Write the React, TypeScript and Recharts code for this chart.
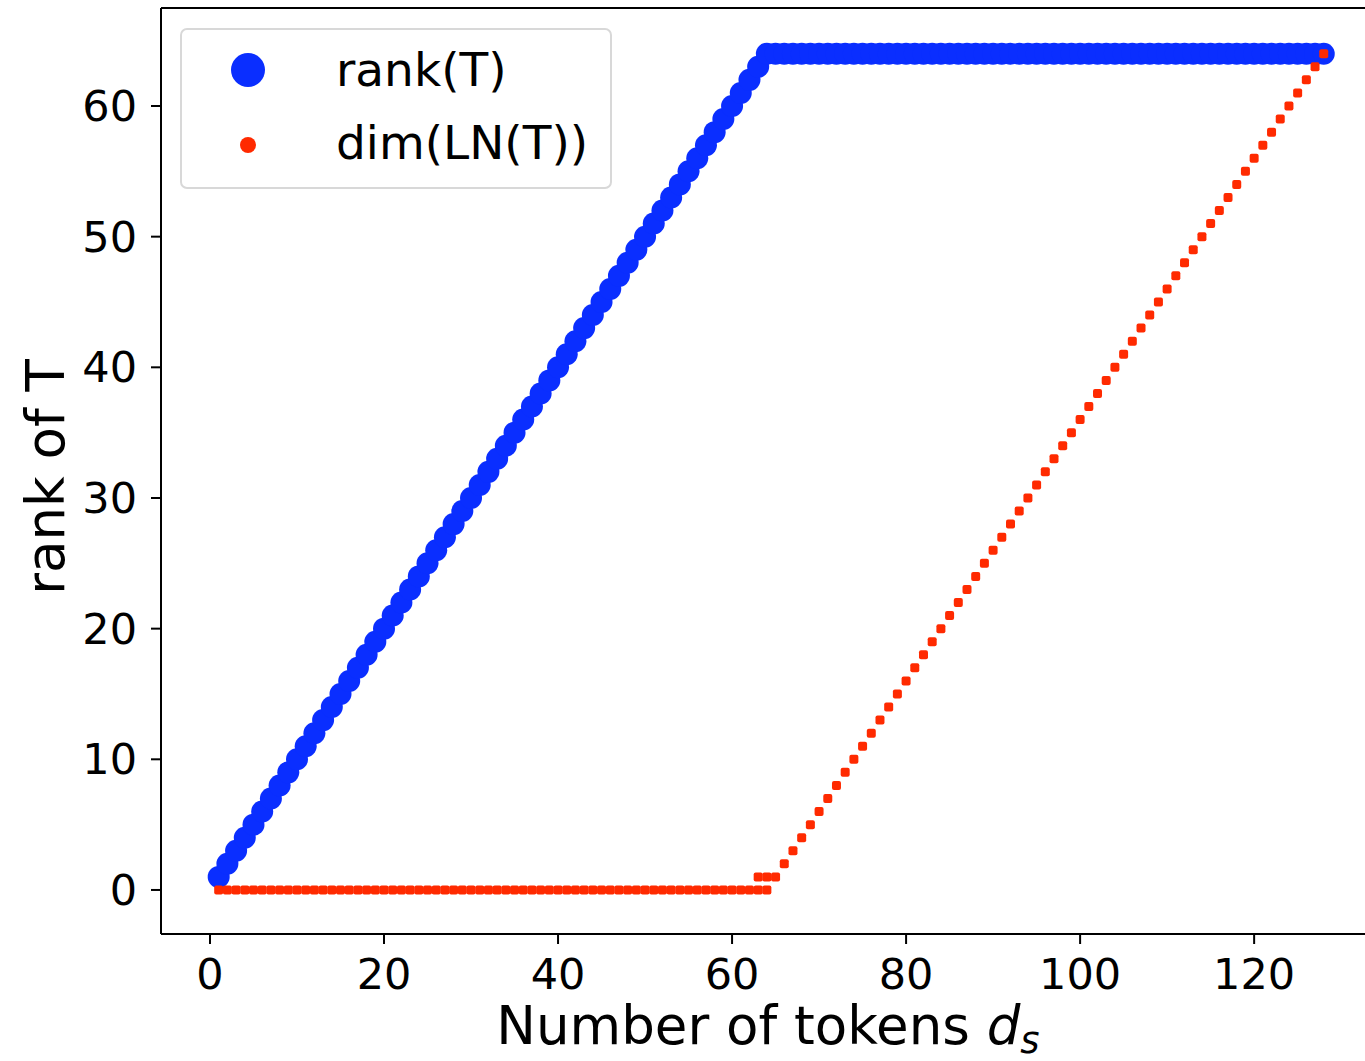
import { ScatterChart, Scatter, XAxis, YAxis, ReferenceLine } from "recharts";

// number of tokens d_s (x positions)
const tokens = [
  1, 2, 3, 4, 5, 6, 7, 8, 9, 10, 11, 12, 13, 14, 15, 16, 17, 18, 19, 20, 21, 22, 23, 24, 25, 26, 27, 28, 29, 30, 31, 32,
  33, 34, 35, 36, 37, 38, 39, 40, 41, 42, 43, 44, 45, 46, 47, 48, 49, 50, 51, 52, 53, 54, 55, 56, 57, 58, 59, 60, 61, 62, 63, 64,
  65, 66, 67, 68, 69, 70, 71, 72, 73, 74, 75, 76, 77, 78, 79, 80, 81, 82, 83, 84, 85, 86, 87, 88, 89, 90, 91, 92, 93, 94, 95, 96,
  97, 98, 99, 100, 101, 102, 103, 104, 105, 106, 107, 108, 109, 110, 111, 112, 113, 114, 115, 116, 117, 118, 119, 120, 121, 122, 123, 124, 125, 126, 127, 128,
];

// rank(T)
const rankT = [
  1, 2, 3, 4, 5, 6, 7, 8, 9, 10, 11, 12, 13, 14, 15, 16, 17, 18, 19, 20, 21, 22, 23, 24, 25, 26, 27, 28, 29, 30, 31, 32,
  33, 34, 35, 36, 37, 38, 39, 40, 41, 42, 43, 44, 45, 46, 47, 48, 49, 50, 51, 52, 53, 54, 55, 56, 57, 58, 59, 60, 61, 62, 63, 64,
  64, 64, 64, 64, 64, 64, 64, 64, 64, 64, 64, 64, 64, 64, 64, 64, 64, 64, 64, 64, 64, 64, 64, 64, 64, 64, 64, 64, 64, 64, 64, 64,
  64, 64, 64, 64, 64, 64, 64, 64, 64, 64, 64, 64, 64, 64, 64, 64, 64, 64, 64, 64, 64, 64, 64, 64, 64, 64, 64, 64, 64, 64, 64, 64,
];

// dim(LN(T))
const dimLN = [
  0, 0, 0, 0, 0, 0, 0, 0, 0, 0, 0, 0, 0, 0, 0, 0, 0, 0, 0, 0, 0, 0, 0, 0, 0, 0, 0, 0, 0, 0, 0, 0,
  0, 0, 0, 0, 0, 0, 0, 0, 0, 0, 0, 0, 0, 0, 0, 0, 0, 0, 0, 0, 0, 0, 0, 0, 0, 0, 0, 0, 0, 0, 0, 0,
  1, 2, 3, 4, 5, 6, 7, 8, 9, 10, 11, 12, 13, 14, 15, 16, 17, 18, 19, 20, 21, 22, 23, 24, 25, 26, 27, 28, 29, 30, 31, 32,
  33, 34, 35, 36, 37, 38, 39, 40, 41, 42, 43, 44, 45, 46, 47, 48, 49, 50, 51, 52, 53, 54, 55, 56, 57, 58, 59, 60, 61, 62, 63, 64,
];
// a few extra dim(LN(T)) points near the knee
const dimExtraX = [63, 64];
const dimExtraY = [1, 1];

const xTicks = [0, 20, 40, 60, 80, 100, 120];
const yTicks = [0, 10, 20, 30, 40, 50, 60];

const BLUE = "#0a2eff";
const RED = "#ff2a00";
const FONT = "'DejaVu Sans', sans-serif";
const X_DOMAIN = [-5.63, 134.35];
const Y_DOMAIN = [-3.37, 67.5];

const rankData = tokens.map((x, i) => ({ x, y: rankT[i] }));
const dimData = [
  ...tokens.map((x, i) => ({ x, y: dimLN[i] })),
  ...dimExtraX.map((x, i) => ({ x, y: dimExtraY[i] })),
];

const BlueDot = (p: any) => <circle cx={p.cx} cy={p.cy} r={11} fill={BLUE} />;
const RedDot = (p: any) => (
  <rect x={p.cx - 4.5} y={p.cy - 4.5} width={9} height={9} rx={2} fill={RED} />
);

const XTick = (p: any) => (
  <text x={p.x} y={p.y + 43} textAnchor="middle" fontSize={43} fontFamily={FONT} fill="#000">
    {p.payload.value}
  </text>
);
const YTick = (p: any) => (
  <text x={p.x - 12} y={p.y + 15} textAnchor="end" fontSize={43} fontFamily={FONT} fill="#000">
    {p.payload.value}
  </text>
);

const XLabel = () => (
  <text x={768} y={1044} textAnchor="middle" fontSize={53} fontFamily={FONT} fill="#000">
    Number of tokens <tspan fontStyle="italic">d</tspan>
    <tspan fontStyle="italic" fontSize={37} dy={9}>s</tspan>
  </text>
);
const YLabel = () => (
  <text x={64} y={477} textAnchor="middle" fontSize={53} fontFamily={FONT} fill="#000" transform="rotate(-90 64 477)">
    rank of T
  </text>
);

export default function App() {
  return (
    <div style={{ position: "absolute", left: 0, top: 0, width: 1365, height: 1061, overflow: "hidden", background: "#fff" }}>
      <ScatterChart width={1400} height={1061} margin={{ top: 8, right: 21, bottom: 0, left: 0 }}>
        <XAxis
          type="number"
          dataKey="x"
          domain={X_DOMAIN}
          ticks={xTicks}
          height={127}
          axisLine={{ stroke: "#000", strokeWidth: 2 }}
          tickLine={{ stroke: "#000", strokeWidth: 2 }}
          tickSize={10}
          tick={<XTick />}
          label={<XLabel />}
          allowDataOverflow
        />
        <YAxis
          type="number"
          dataKey="y"
          domain={Y_DOMAIN}
          ticks={yTicks}
          width={161}
          axisLine={{ stroke: "#000", strokeWidth: 2 }}
          tickLine={{ stroke: "#000", strokeWidth: 2 }}
          tickSize={10}
          tick={<YTick />}
          label={<YLabel />}
          allowDataOverflow
        />
        <ReferenceLine y={Y_DOMAIN[1]} stroke="#000" strokeWidth={2} ifOverflow="extendDomain" />
        <Scatter data={rankData} shape={<BlueDot />} isAnimationActive={false} />
        <Scatter data={dimData} shape={<RedDot />} isAnimationActive={false} />
      </ScatterChart>
      <div
        style={{
          position: "absolute",
          left: 180,
          top: 28,
          width: 428,
          height: 157,
          border: "2px solid #d8d8d8",
          borderRadius: 7,
          background: "rgba(255,255,255,0.8)",
        }}
      >
        <svg width={428} height={157} style={{ position: "absolute", left: 0, top: 0 }}>
          <circle cx={66} cy={40} r={17} fill={BLUE} />
          <circle cx={66} cy={115} r={8} fill={RED} />
          <text x={154} y={56} fontSize={47} fontFamily={FONT} fill="#000">rank(T)</text>
          <text x={154} y={129} fontSize={47} fontFamily={FONT} fill="#000">dim(LN(T))</text>
        </svg>
      </div>
    </div>
  );
}
